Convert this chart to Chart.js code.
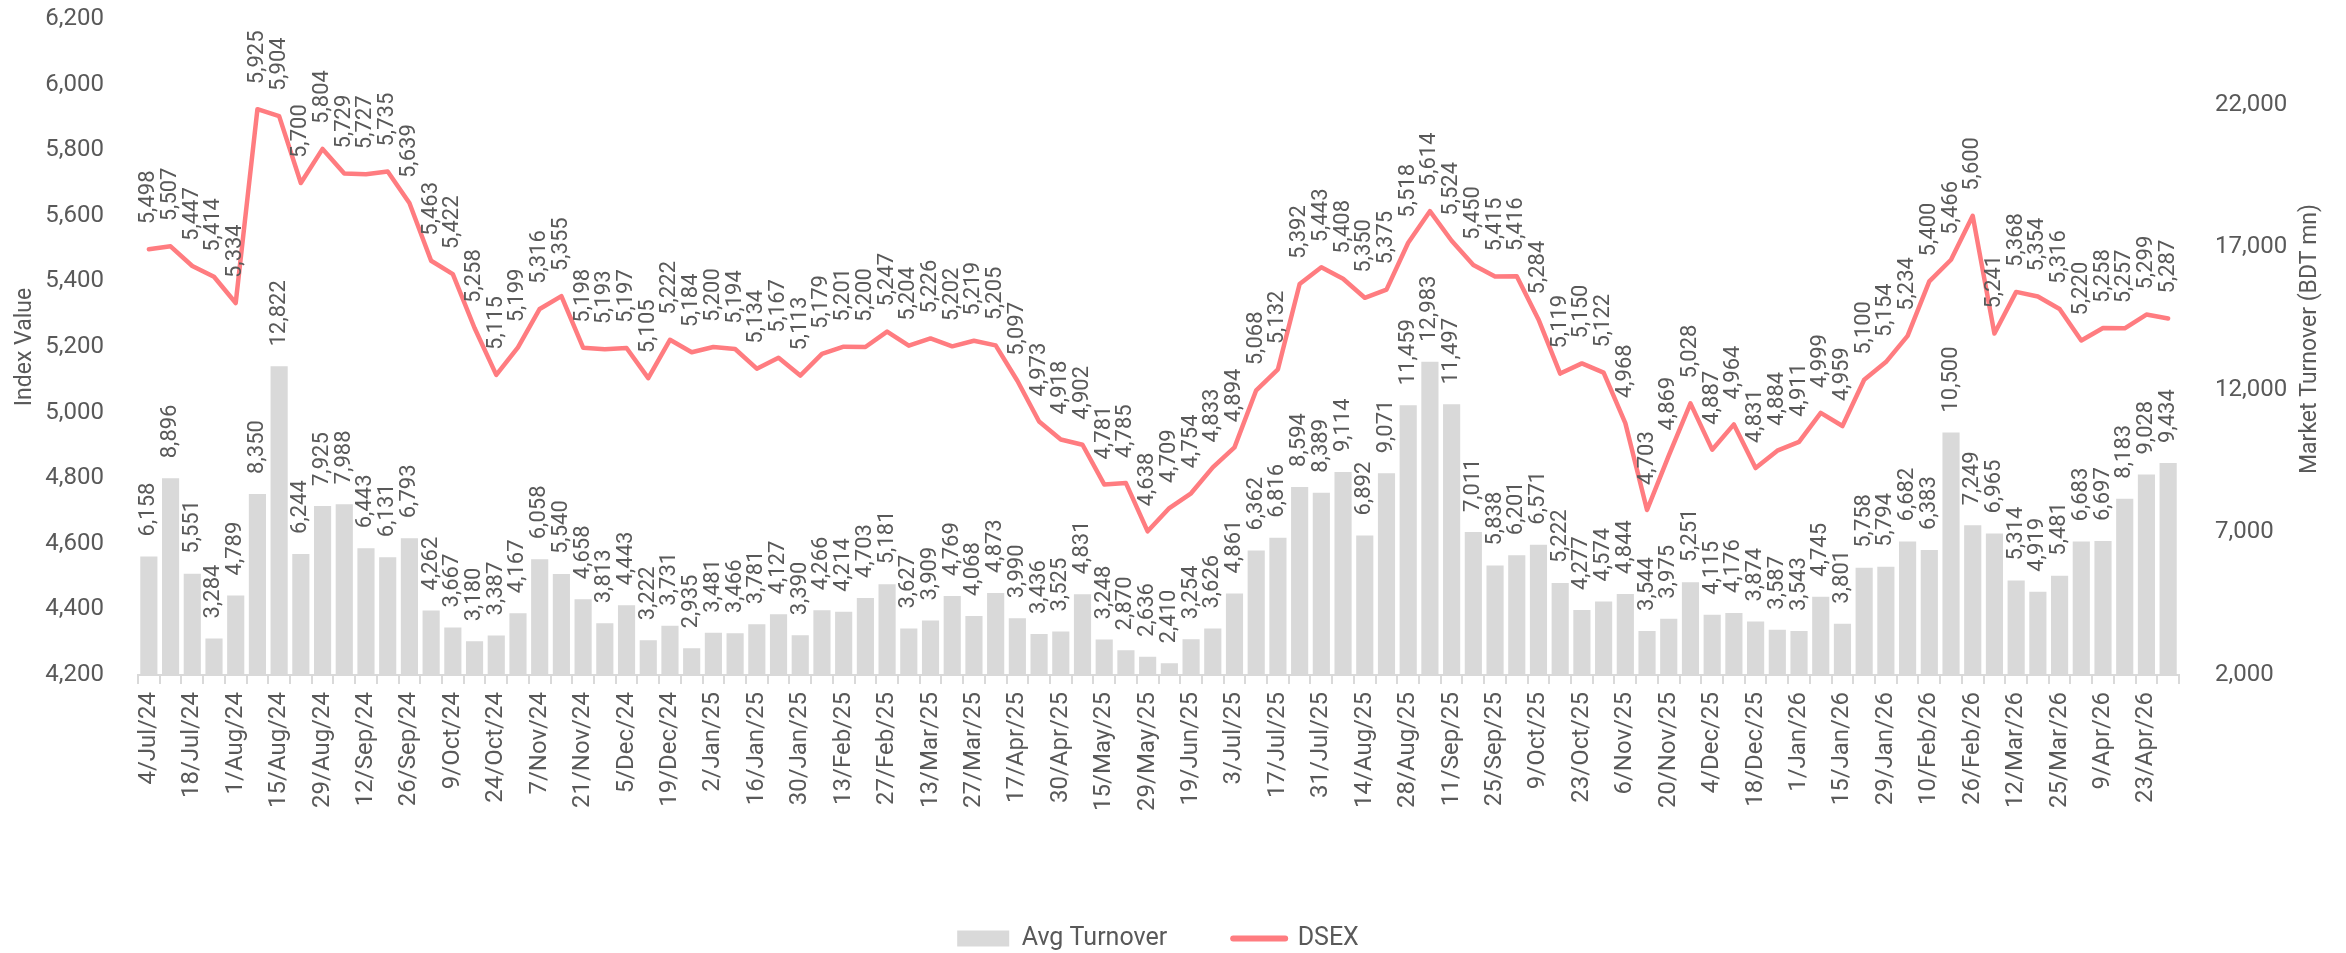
<!DOCTYPE html>
<html>
<head>
<meta charset="utf-8">
<script src="https://cdn.jsdelivr.net/npm/chart.js@4.4.1/dist/chart.umd.min.js"></script>
<style>
  html, body { margin: 0; padding: 0; background: #ffffff; }
  #wrap { width: 2346px; height: 953px; }
</style>
</head>
<body>
<div id="wrap"><canvas id="c" width="2346" height="953"></canvas></div>
<script>
// ---------- DATA ----------
const categories = [
  "4/Jul/24","11/Jul/24","18/Jul/24","25/Jul/24","1/Aug/24","8/Aug/24","15/Aug/24","22/Aug/24",
  "29/Aug/24","5/Sep/24","12/Sep/24","19/Sep/24","26/Sep/24","3/Oct/24","9/Oct/24","17/Oct/24",
  "24/Oct/24","31/Oct/24","7/Nov/24","14/Nov/24","21/Nov/24","28/Nov/24","5/Dec/24","12/Dec/24",
  "19/Dec/24","26/Dec/24","2/Jan/25","9/Jan/25","16/Jan/25","23/Jan/25","30/Jan/25","6/Feb/25",
  "13/Feb/25","20/Feb/25","27/Feb/25","6/Mar/25","13/Mar/25","20/Mar/25","27/Mar/25","10/Apr/25",
  "17/Apr/25","24/Apr/25","30/Apr/25","8/May/25","15/May/25","22/May/25","29/May/25","12/Jun/25",
  "19/Jun/25","26/Jun/25","3/Jul/25","10/Jul/25","17/Jul/25","24/Jul/25","31/Jul/25","7/Aug/25",
  "14/Aug/25","21/Aug/25","28/Aug/25","4/Sep/25","11/Sep/25","18/Sep/25","25/Sep/25","2/Oct/25",
  "9/Oct/25","16/Oct/25","23/Oct/25","30/Oct/25","6/Nov/25","13/Nov/25","20/Nov/25","27/Nov/25",
  "4/Dec/25","11/Dec/25","18/Dec/25","24/Dec/25","1/Jan/26","8/Jan/26","15/Jan/26","22/Jan/26",
  "29/Jan/26","5/Feb/26","10/Feb/26","19/Feb/26","26/Feb/26","5/Mar/26","12/Mar/26","19/Mar/26",
  "25/Mar/26","2/Apr/26","9/Apr/26","16/Apr/26","23/Apr/26","30/Apr/26"
];

const dsex = [
  5498,5507,5447,5414,5334,5925,5904,5700,5804,5729,5727,5735,5639,5463,5422,5258,
  5115,5199,5316,5355,5198,5193,5197,5105,5222,5184,5200,5194,5134,5167,5113,5179,
  5201,5200,5247,5204,5226,5202,5219,5205,5097,4973,4918,4902,4781,4785,4638,4709,
  4754,4833,4894,5068,5132,5392,5443,5408,5350,5375,5518,5614,5524,5450,5415,5416,
  5284,5119,5150,5122,4968,4703,4869,5028,4887,4964,4831,4884,4911,4999,4959,5100,
  5154,5234,5400,5466,5600,5241,5368,5354,5316,5220,5258,5257,5299,5287
];

const avgTurnover = [
  6158,8896,5551,3284,4789,8350,12822,6244,7925,7988,6443,6131,6793,4262,3667,3180,
  3387,4167,6058,5540,4658,3813,4443,3222,3731,2935,3481,3466,3781,4127,3390,4266,
  4214,4703,5181,3627,3909,4769,4068,4873,3990,3436,3525,4831,3248,2870,2636,2410,
  3254,3626,4861,6362,6816,8594,8389,9114,6892,9071,11459,12983,11497,7011,5838,6201,
  6571,5222,4277,4574,4844,3544,3975,5251,4115,4176,3874,3587,3543,4745,3801,5758,
  5794,6682,6383,10500,7249,6965,5314,4919,5481,6683,6697,8183,9028,9434
];

const leftTicks = [4200,4400,4600,4800,5000,5200,5400,5600,5800,6000,6200];
const rightTicks = [2000,7000,12000,17000,22000];

const leftTitle = "Index Value";
const rightTitle = "Market Turnover (BDT mn)";
const lineName = "DSEX";
const barName = "Avg Turnover";

// ---------- STYLE ----------
const TEXT = '#595959';
const FONT = 'Roboto, "Noto Sans", sans-serif';

const fmt = v => v.toLocaleString('en-US');

// data labels + axis titles plugin
const labelPlugin = {
  id: 'customLabels',
  afterDatasetsDraw(chart) {
    const ctx = chart.ctx;
    ctx.save();
    ctx.fillStyle = TEXT;
    ctx.font = '22px ' + FONT;
    ctx.textAlign = 'left';
    ctx.textBaseline = 'middle';
    chart.data.datasets.forEach((ds, di) => {
      const meta = chart.getDatasetMeta(di);
      const off = ds.type === 'line' ? 25 : 20;
      meta.data.forEach((el, i) => {
        const v = ds.data[i];
        ctx.save();
        ctx.translate(el.x, el.y - off);
        ctx.rotate(-Math.PI / 2);
        ctx.fillText(fmt(v), 0, 0);
        ctx.restore();
      });
    });
    // axis titles
    const ca = chart.chartArea;
    const cy = (ca.top + ca.bottom) / 2;
    ctx.font = '23px ' + FONT;
    ctx.textAlign = 'center';
    ctx.textBaseline = 'middle';
    ctx.save(); ctx.translate(25, cy); ctx.rotate(-Math.PI / 2); ctx.fillText(leftTitle, 0, 0); ctx.restore();
    ctx.save(); ctx.translate(2310, cy - 8); ctx.rotate(-Math.PI / 2); ctx.fillText(rightTitle, 0, 0); ctx.restore();
    ctx.restore();
  }
};

const ctx = document.getElementById('c').getContext('2d');
new Chart(ctx, {
  data: {
    labels: categories,
    datasets: [
      {
        type: 'line',
        label: lineName,
        data: dsex,
        yAxisID: 'y',
        borderColor: '#FF7C80',
        backgroundColor: '#FF7C80',
        borderWidth: 4.5,
        pointRadius: 0,
        pointHoverRadius: 0,
        tension: 0,
        borderJoinStyle: 'round',
        borderCapStyle: 'round',
        fill: false
      },
      {
        type: 'bar',
        label: barName,
        data: avgTurnover,
        yAxisID: 'y1',
        backgroundColor: '#D9D9D9',
        borderWidth: 0,
        barPercentage: 0.79,
        categoryPercentage: 1.0
      }
    ]
  },
  options: {
    responsive: false,
    animation: false,
    devicePixelRatio: 1,
    layout: { padding: { top: 19, left: 0, right: 30, bottom: 0 } },
    plugins: {
      tooltip: { enabled: false },
      legend: {
        position: 'bottom',
        align: 'center',
        maxHeight: 93,
        labels: {
          color: TEXT,
          font: { family: FONT, size: 25 },
          usePointStyle: true,
          pointStyleWidth: 52,
          boxWidth: 52,
          boxHeight: 16,
          padding: 66,
          generateLabels(chart) {
            const items = Chart.defaults.plugins.legend.labels.generateLabels(chart);
            items.forEach(it => {
              const ds = chart.data.datasets[it.datasetIndex];
              if (ds.type === 'line') {
                it.pointStyle = 'line';
                it.lineWidth = 6;
                it.strokeStyle = ds.borderColor;
                it.lineCap = 'round';
              } else {
                it.pointStyle = 'rect';
                it.lineWidth = 0;
                it.fillStyle = ds.backgroundColor;
              }
            });
            return items.sort((a, b) => b.datasetIndex - a.datasetIndex);
          }
        }
      }
    },
    scales: {
      x: {
        type: 'category',
        offset: true,
        grid: {
          display: true,
          drawOnChartArea: false,
          drawTicks: true,
          tickLength: 9,
          offset: true,
          color: '#D9D9D9',
          lineWidth: 2
        },
        border: { display: true, color: '#D9D9D9', width: 2 },
        ticks: {
          autoSkip: false,
          minRotation: 90,
          maxRotation: 90,
          padding: 8,
          color: TEXT,
          font: { family: FONT, size: 24 },
          callback: function (value, index) {
            return index % 2 === 0 ? this.getLabelForValue(value) : '';
          }
        },
        afterFit(s) { s.height = 185; s.paddingLeft = 0; s.paddingRight = 0; }
      },
      y: {
        position: 'left',
        min: leftTicks[0],
        max: leftTicks[leftTicks.length - 1],
        grid: { display: false },
        border: { display: false },
        ticks: {
          stepSize: 200,
          padding: 26,
          color: TEXT,
          font: { family: FONT, size: 24 }
        },
        afterBuildTicks(s) { s.ticks = leftTicks.map(v => ({ value: v })); },
        afterFit(s) { s.width = 138; s.paddingTop = 0; s.paddingBottom = 0; }
      },
      y1: {
        position: 'right',
        min: 2000,
        max: 25000,
        grid: { display: false },
        border: { display: false },
        ticks: {
          padding: 28,
          color: TEXT,
          font: { family: FONT, size: 24 }
        },
        afterBuildTicks(s) { s.ticks = rightTicks.map(v => ({ value: v })); },
        afterFit(s) { s.width = 137; s.paddingTop = 0; s.paddingBottom = 0; }
      }
    }
  },
  plugins: [labelPlugin]
});
</script>
</body>
</html>
